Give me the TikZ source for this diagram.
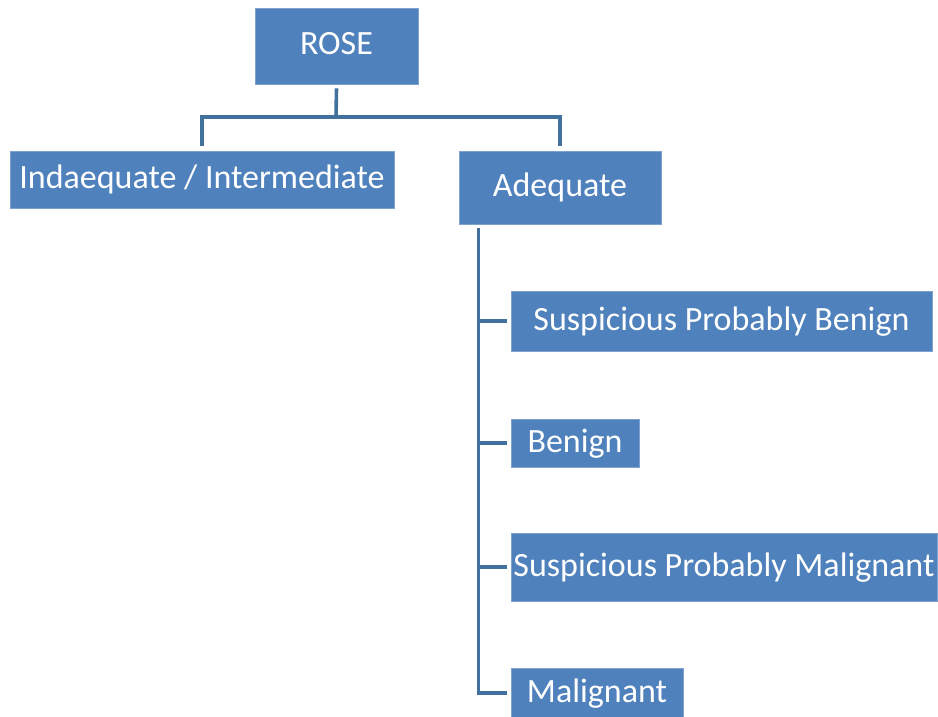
\documentclass[tikz,border=0pt]{standalone}
\usepackage{fontspec}
\setmainfont{Carlito}
\definecolor{boxblue}{HTML}{4F81BD}
\definecolor{boxedge}{HTML}{7FA3D0}
\definecolor{linkblue}{HTML}{41719C}
\tikzset{
  box/.style={fill=boxblue, draw=boxedge, line width=0.8pt, text=white,
    inner sep=0pt, font=\fontsize{34}{38}\selectfont,
    text height=26pt, text depth=8pt},
  conn/.style={draw=linkblue, line width=3.6pt}
}
\begin{document}
\begin{tikzpicture}[x=1pt,y=-1pt]
\useasboundingbox (0,0) rectangle (938,717);
% root and first level
\node[box, minimum width=163pt, minimum height=76pt] (rose) at (336.5,46) {ROSE};
\node[box, minimum width=384pt, minimum height=57pt] (ind) at (202,179.5) {Indaequate / Intermediate};
\node[box, minimum width=202pt, minimum height=73pt] (ade) at (560,187.5) {Adequate};
% categories under Adequate
\node[box, minimum width=421pt, minimum height=60pt] (spb) at (721.5,321) {Suspicious Probably Benign};
\node[box, minimum width=128pt, minimum height=48pt] (ben) at (575,443) {Benign};
\node[box, minimum width=426pt, minimum height=68pt] (spm) at (724,567) {Suspicious Probably Malignant};
\node[box, minimum width=172pt, minimum height=50pt] (mal) at (597,693) {Malignant};
% connectors
\coordinate (bus) at (336,117);
\draw[conn] ([yshift=-4pt]rose.south) -- (bus);
\draw[conn] ([yshift=5pt]ind.north) |- (bus) -| ([yshift=5pt]ade.north);
\coordinate (trunk) at ([xshift=20pt,yshift=-4pt]ade.south west);
\draw[conn] (trunk) |- ([xshift=-4pt]mal.west);
\draw[conn] (trunk |- spb.west) -- ([xshift=-4pt]spb.west);
\draw[conn] (trunk |- ben.west) -- ([xshift=-4pt]ben.west);
\draw[conn] (trunk |- spm.west) -- ([xshift=-4pt]spm.west);
\end{tikzpicture}
\end{document}
